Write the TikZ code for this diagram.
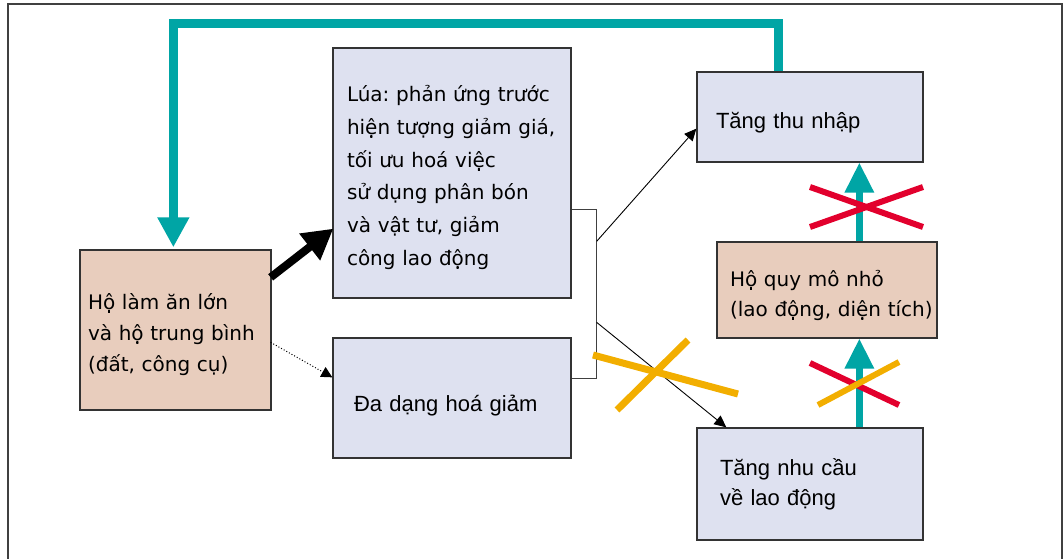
\documentclass[tikz,border=0pt]{standalone}
\usepackage{fontspec}
\newfontfamily\dv{DejaVu Sans}
\newfontfamily\ls{Liberation Sans}
\usetikzlibrary{arrows.meta,calc}
\frenchspacing
\definecolor{tealc}{HTML}{00A5A5}
\definecolor{orangec}{HTML}{F2AE00}
\definecolor{redc}{HTML}{E2002D}
\definecolor{tanc}{HTML}{E8CDBD}
\definecolor{bluec}{HTML}{DEE1F0}
\definecolor{edgec}{HTML}{333333}
\tikzset{
  box/.style={draw=edgec, line width=1.3pt, align=left, inner ysep=0pt, anchor=center},
  tanbox/.style={box, fill=tanc},
  bluebox/.style={box, fill=bluec},
  dvtext/.style={font=\dv\fontsize{20}{31}\selectfont},
  lstext/.style={font=\ls\fontsize{22}{30}\selectfont},
  thin arrow/.style={draw=black, line width=0.9pt, -{Triangle[length=12pt,width=11pt]}},
  teal up/.style={draw=tealc, line width=6.5pt, -{Triangle[length=30pt,width=28pt]}},
  crossred/.style={draw=redc, line width=6pt},
  crossorange/.style={draw=orangec, line width=7pt},
}
\begin{document}
\begin{tikzpicture}[x=1pt,y=-1pt]
\useasboundingbox (0,0) rectangle (1063,559);
% frame
\draw[draw=black!75, line width=2pt] (8,559) -- (8,4) -- (1062,4) -- (1062,559);

% boxes
\node[tanbox, dvtext, minimum width=191pt, minimum height=160pt, text width=175pt, inner xsep=8pt] (A) at (175.5,330) {\rule{0pt}{26pt}Hộ làm ăn lớn\\và hộ trung bình\\(đất, công cụ)};
\node[bluebox, dvtext, font=\dv\fontsize{20}{32.7}\selectfont, minimum width=238pt, minimum height=250pt, text width=210pt, inner xsep=14pt] (B) at (452,173) {\rule{0pt}{25pt}Lúa: phản ứng trước\\hiện tượng giảm giá,\\tối ưu hoá việc\\sử dụng phân bón\\và vật tư, giảm\\công lao động};
\node[bluebox, lstext, minimum width=238pt, minimum height=120pt, text width=196pt, inner xsep=21pt] (C) at (452,398) {\rule{0pt}{32pt}Đa dạng hoá giảm};
\node[bluebox, lstext, minimum width=226pt, minimum height=90pt, text width=188pt, inner xsep=19pt] (D) at (810,117) {\rule{0pt}{28pt}Tăng thu nhập};
\node[tanbox, dvtext, font=\dv\fontsize{20}{30}\selectfont, minimum width=220pt, minimum height=96pt, text width=194pt, inner xsep=13pt] (E) at (827,290) {\rule{0pt}{27pt}Hộ quy mô nhỏ\\\mbox{(lao động, diện tích)}};
\node[bluebox, lstext, minimum width=226pt, minimum height=112pt, text width=180pt, inner xsep=23pt] (F) at (810,484) {Tăng nhu cầu\\về lao động};

% bracket
\coordinate (bt) at ($(B.north east)+(25,162)$);
\coordinate (bb) at ($(C.north east)+(25,41)$);
\coordinate (b1) at ($(bt)+(0,32)$);
\coordinate (b2) at ($(bt)+(0,113)$);
\draw[draw=black!75, line width=1.2pt] ($(B.north east)+(0,162)$) -- (bt) -- (bb) -- ($(C.north east)+(0,41)$);

% connectors
\draw[draw=black, line width=8pt, -{Triangle[length=30pt,width=32pt]}] ($(A.north east)+(-1,28)$) -- ($(B.south west)+(1,-70)$);
\draw[draw=black, line width=1pt, dotted, -{Triangle[length=11pt,width=11pt]}] ($(A.north east)+(-1,93)$) -- ($(C.north west)+(0,40)$);
\draw[thin arrow] (b1) -- ($(D.south west)+(0,-34)$);
\draw[thin arrow] (b2) -- ($(F.north west)+(30,0)$);

% teal loop
\draw[draw=tealc, line width=9pt, line join=miter, -{Triangle[length=30pt,width=30pt]}] ($(D.north west)+(82,0)$) |- ($(A.north west)+(94,-226)$) -- ($(A.north west)+(94,-2)$);

% teal up arrows
\draw[teal up] ($(F.north west)+(163,0)$) -- ($(E.south west)+(143,0)$);
\draw[teal up] ($(E.north west)+(143,0)$) -- ($(D.south west)+(163,0)$);

% crosses
\draw[crossred] (810,187) -- (923,227);
\draw[crossred] (810,227) -- (923,187);
\draw[crossred] (810,363) -- (899,405);
\draw[crossorange, line width=6pt] (818,405) -- (899,362);
\draw[crossorange] (593,355) -- (738,394);
\draw[crossorange] (688,340) -- (617,410);
\end{tikzpicture}
\end{document}
